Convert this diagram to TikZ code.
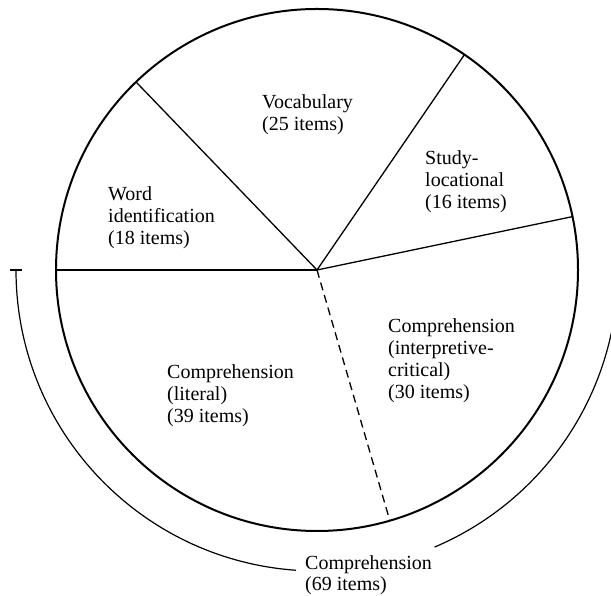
\documentclass[tikz,border=0pt]{standalone}
\usepackage{fontspec}
\setmainfont{Liberation Serif}

\begin{document}
\begin{tikzpicture}[x=1pt, y=1pt,
    rim/.style={line width=2pt},
    spoke/.style={line width=1.3pt},
    span/.style={line width=1.2pt},
    sector/.style={align=left, anchor=north west, inner sep=0pt,
                   font=\fontsize{20}{22}\selectfont}]

  \useasboundingbox (0,0) rectangle (611,596);
  \coordinate (O) at (317,326);

  % Circle
  \draw[rim] (O) circle (261);

  % Spokes between the sectors
  \foreach \a/\n in {180/W, 133.9/V, 55.6/S, 11.8/I} {
    \path (O) ++(\a:261) coordinate (R\n);
    \draw[spoke] (O) -- (R\n);
  }
  \path (O) ++(286.2:261) coordinate (RL);
  \draw[spoke, dash pattern=on 8pt off 5pt] (O) -- (RL);

  % Sector labels
  \node[sector] (word)  at (108,410) {Word\\identification\\(18 items)};
  \node[sector] (vocab) at (262,502) {Vocabulary\\(25 items)};
  \node[sector] (study) at (425,446) {Study-\\locational\\(16 items)};
  \node[sector] (inter) at (388,278) {Comprehension\\(interpretive-\\critical)\\(30 items)};
  \node[sector] (liter) at (167,232) {Comprehension\\(literal)\\(39 items)};

  % Outer arc round both comprehension sectors
  \path (O) ++(180:301) coordinate (A0);
  \path (O) ++(293:301) coordinate (A1);
  \draw[span] (A0) arc[start angle=180, end angle=266, radius=301];
  \draw[span] (A1) arc[start angle=293, end angle=350, radius=301];
  \draw[span] ([xshift=-6pt]A0) -- ([xshift=6pt]A0);
  \node[sector, font=\fontsize{20}{21}\selectfont] (total) at (305,41) {Comprehension\\(69 items)};

\end{tikzpicture}
\end{document}
